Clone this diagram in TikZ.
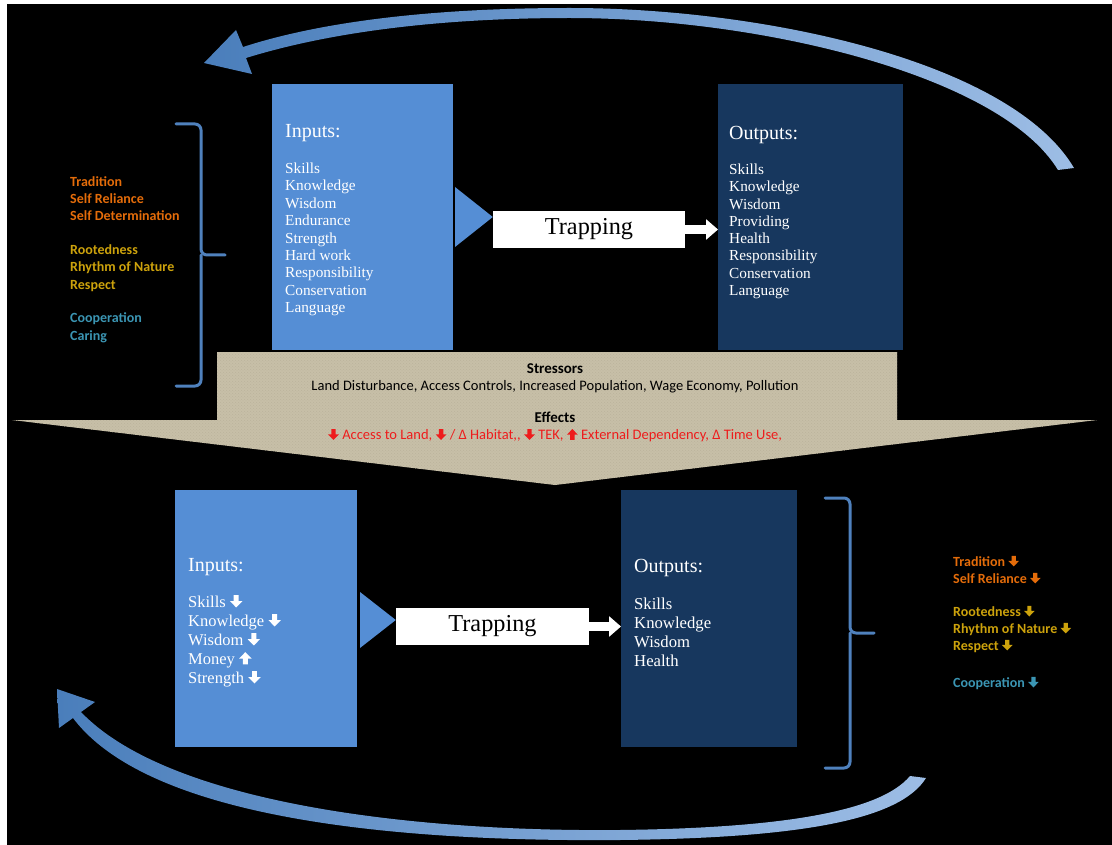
\documentclass[tikz,border=0pt]{standalone}
\usepackage{fontspec}
\setmainfont{Liberation Serif}
\newfontfamily\calib{Carlito}
\usetikzlibrary{arrows.meta,patterns}

\definecolor{inbox}{HTML}{558ED5}
\definecolor{outbox}{HTML}{17375E}
\definecolor{loopblue}{HTML}{4A7EBB}
\definecolor{looplight}{HTML}{9DBDE5}
\definecolor{bracecol}{HTML}{4F81BD}
\definecolor{burlap}{HTML}{C7BFA8}
\definecolor{burlapdark}{HTML}{BBB39B}
\definecolor{orangeT}{HTML}{E46C0A}
\definecolor{goldT}{HTML}{CCA20C}
\definecolor{tealT}{HTML}{3B95B3}
\definecolor{redT}{HTML}{EE1C1C}

% thick block arrows used inside text
\newcommand{\arrdown}[1]{\tikz[baseline=0pt,x=0.1em,y=0.1em]\fill[#1] (-1.5,7.2)--(1.5,7.2)--(1.5,3.6)--(3.8,3.6)--(0,-0.3)--(-3.8,3.6)--(-1.5,3.6)--cycle;}
\newcommand{\arrup}[1]{\tikz[baseline=0pt,x=0.1em,y=0.1em]\fill[#1] (-1.5,-0.3)--(1.5,-0.3)--(1.5,3.3)--(3.8,3.3)--(0,7.2)--(-3.8,3.3)--(-1.5,3.3)--cycle;}

\begin{document}
\begin{tikzpicture}[x=1pt,y=-1pt,
  inputbox/.style={rectangle, fill=inbox, anchor=north west, inner sep=0pt},
  outputbox/.style={rectangle, fill=outbox, anchor=north west, inner sep=0pt},
  trapbox/.style={rectangle, fill=white, inner sep=0pt, minimum height=37pt, font=\fontsize{24.3}{27}\selectfont},
  boxhead/.style={anchor=base west, inner sep=0pt, text=white},
  boxitem/.style={anchor=base west, inner sep=0pt, text=white},
  valueitem/.style={anchor=base west, inner sep=0pt, font=\calib\bfseries\fontsize{14}{16}\selectfont},
  stresstext/.style={anchor=base, inner sep=0pt, font=\calib\fontsize{14.5}{16}\selectfont},
  stresshead/.style={anchor=base, inner sep=0pt, font=\calib\bfseries\fontsize{15}{17}\selectfont},
  bracket/.style={draw=bracecol, line width=3pt, rounded corners=6pt, line cap=round},
  flowarrow/.style={white, line width=9pt, -{Triangle[length=12pt,width=20pt]}},
  loop/.style={left color=loopblue, middle color=loopblue, right color=looplight}]

% page and black background
\fill[white] (0,0) rectangle (1112,845);
\fill[black] (7,4) rectangle (1112,845);
\useasboundingbox (0,0) rectangle (1112,845);

% ---------- upper cycle ----------
\node[inputbox, minimum width=181pt, minimum height=266pt] (inT) at (272,84) {};
\node[outputbox, minimum width=185pt, minimum height=266pt] (outT) at (718,84) {};
\node[trapbox, minimum width=192pt] (trapT) at (589,229.5) {Trapping};
\fill[inbox] (455,187) -- (trapT.west |- 0,217) -- (455,247) -- cycle;
\draw[flowarrow] (trapT.east) -- (trapT.east -| outT.west);

\node[boxhead, font=\fontsize{20}{23}\selectfont] (inTh) at (285,138) {Inputs:};
\foreach \t [count=\i] in {Skills,Knowledge,Wisdom,Endurance,Strength,Hard work,Responsibility,Conservation,Language}
  \node[boxitem, font=\fontsize{15.3}{17}\selectfont] (inT\i) at (285,{173.5+17.4*(\i-1)}) {\t};

\node[boxhead, font=\fontsize{20}{23}\selectfont] (outTh) at (729,139.5) {Outputs:};
\foreach \t [count=\i] in {Skills,Knowledge,Wisdom,Providing,Health,Responsibility,Conservation,Language}
  \node[boxitem, font=\fontsize{15.3}{17}\selectfont] (outT\i) at (729,{174.5+17.3*(\i-1)}) {\t};

% values bracket, left
\draw[bracket] (176,124) -- (201,124) -- (201,255) -- (225,255);
\draw[bracket] (176,386) -- (201,386) -- (201,255);
\foreach \c/\t/\y [count=\i] in {orangeT/Tradition/187, orangeT/Self Reliance/204, orangeT/Self Determination/221,
    goldT/Rootedness/255, goldT/Rhythm of Nature/272, goldT/Respect/290,
    tealT/Cooperation/323, tealT/Caring/341}
  \node[valueitem, text=\c] (valL\i) at (70,\y) {\t};

% ---------- stressors ----------
\fill[burlap] (217,352) -- (897,352) -- (897,420) -- (1097,420) -- (555,485) -- (12,420) -- (217,420) -- cycle;
\fill[pattern=crosshatch dots, pattern color=burlapdark] (217,352) -- (897,352) -- (897,420) -- (1097,420) -- (555,485) -- (12,420) -- (217,420) -- cycle;
\node[stresshead] (stressH) at (555,373) {Stressors};
\node[stresstext] (stressL) at (555,390.5) {Land Disturbance, Access Controls, Increased Population, Wage Economy, Pollution};
\node[stresshead] (effH) at (555,422) {Effects};
\node[stresstext, text=redT] (effL) at (555,439.5) {\arrdown{redT} Access to Land, \arrdown{redT} / Δ Habitat,, \arrdown{redT} TEK, \arrup{redT} External Dependency, Δ Time Use,};

% ---------- lower cycle ----------
\node[inputbox, minimum width=182pt, minimum height=257pt] (inB) at (175,490) {};
\node[outputbox, minimum width=176pt, minimum height=257pt] (outB) at (621,490) {};
\node[trapbox, minimum width=193pt] (trapB) at (492.5,626.5) {Trapping};
\fill[inbox] (360,592) -- (trapB.west |- 0,620) -- (360,648) -- cycle;
\draw[flowarrow] (trapB.east) -- (trapB.east -| outB.west);

\node[boxhead, font=\fontsize{20}{23}\selectfont] (inBh) at (188,571) {Inputs:};
\foreach \t [count=\i] in {Skills \arrdown{white},Knowledge \arrdown{white},Wisdom \arrdown{white},Money \arrup{white},Strength \arrdown{white}}
  \node[boxitem, font=\fontsize{16.5}{19}\selectfont] (inB\i) at (188,{607+19*(\i-1)}) {\t};

\node[boxhead, font=\fontsize{20}{23}\selectfont] (outBh) at (634,572) {Outputs:};
\foreach \t [count=\i] in {Skills,Knowledge,Wisdom,Health}
  \node[boxitem, font=\fontsize{16.7}{19}\selectfont] (outB\i) at (634,{609+19*(\i-1)}) {\t};

% values bracket, right
\draw[bracket] (825,498) -- (850,498) -- (850,633) -- (874,633);
\draw[bracket] (825,768) -- (850,768) -- (850,633);
\foreach \c/\t/\y [count=\i] in {orangeT/Tradition/566, orangeT/Self Reliance/583,
    goldT/Rootedness/616, goldT/Rhythm of Nature/633, goldT/Respect/650,
    tealT/Cooperation/687}
  \node[valueitem, text=\c] (valR\i) at (953,\y) {\t\ \arrdown{\c}};

% ---------- feedback loops ----------
\shade[loop] (243,47) .. controls (320,22) and (430,8) .. (570,8)
  .. controls (760,8) and (1010,60) .. (1074,168) -- (1058,170)
  .. controls (1000,75) and (760,18) .. (570,18)
  .. controls (440,18) and (330,32) .. (246,58)
  -- (252,74) -- (204,63) -- (236,30) -- cycle;

\shade[loop] (73,718) .. controls (150,820) and (400,842) .. (620,840)
  .. controls (800,838) and (900,820) .. (926,778) -- (910,776)
  .. controls (880,812) and (780,828) .. (620,830)
  .. controls (420,832) and (170,805) .. (81,712)
  -- (95,702) -- (57,689) -- (59,728) -- cycle;

\end{tikzpicture}
\end{document}
